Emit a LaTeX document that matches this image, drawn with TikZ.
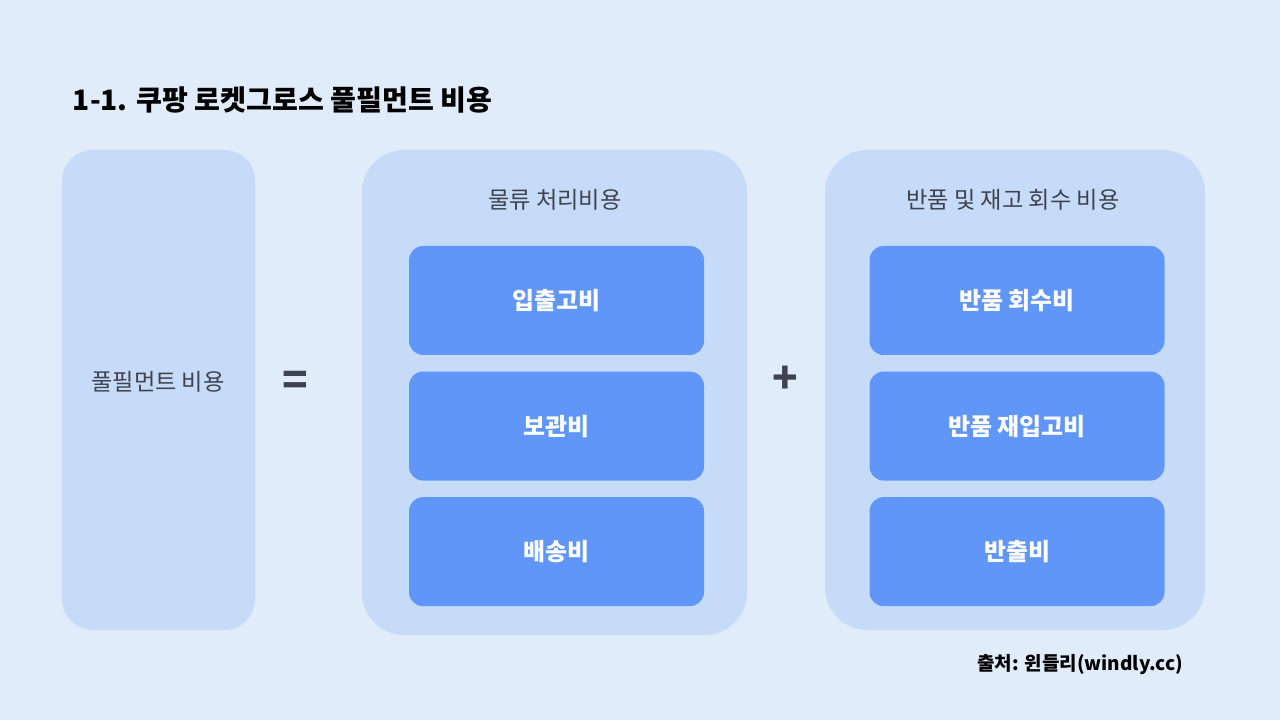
\documentclass[tikz,border=0pt]{standalone}
\usepackage{fontspec}
\setmainfont{Noto Sans CJK KR}
\usetikzlibrary{positioning}
\definecolor{bgblue}{HTML}{E1ECFB}
\definecolor{panelblue}{HTML}{C6DBF8}
\definecolor{itemblue}{HTML}{6096F8}
\definecolor{textgray}{HTML}{3F4350}
\tikzset{
  panel/.style={fill=panelblue, draw=none, rounded corners=22pt, inner sep=0pt},
  item/.style={fill=itemblue, draw=none, rounded corners=10pt, minimum width=295*0.025cm,
    minimum height=109*0.025cm, text=white, font=\fontsize{17}{20}\selectfont\bfseries},
  head/.style={text=textgray, font=\fontsize{16.5}{20}\selectfont},
  sign/.style={text=textgray, font=\fontsize{30}{30}\selectfont\bfseries}
}
\begin{document}
\begin{tikzpicture}[x=0.025cm, y=-0.025cm]
    \fill[bgblue] (0,0) rectangle (1280,720);
    \useasboundingbox (0,0) rectangle (1280,720);
    \node[anchor=west, font=\fontsize{20}{24}\selectfont\bfseries] (title) at (68,100) {1-1. 쿠팡 로켓그로스 풀필먼트 비용};
    % panels
    \fill[panelblue, rounded corners=22pt] (62,150) rectangle (255,630);
    \fill[panelblue, rounded corners=30pt] (362,150) rectangle (747,635);
    \fill[panelblue, rounded corners=30pt] (825,150) rectangle (1205,630);
    \node[head] (total) at (158,382) {풀필먼트 비용};
    \node[sign] (eq) at (295,383) {=};
    \node[sign] (plus) at (785,380) {+};
    \node[head] (logi) at (555,200) {물류 처리비용};
    \node[head] (ret) at (1013,200) {반품 및 재고 회수 비용};
    % items
    \node[item] (inout) at (556.5,300.5) {입출고비};
    \node[item, below=16*0.025cm of inout] (store) {보관비};
    \node[item, below=16*0.025cm of store] (ship) {배송비};
    \node[item] (retcol) at (1017,300.5) {반품 회수비};
    \node[item, below=16*0.025cm of retcol] (restock) {반품 재입고비};
    \node[item, below=16*0.025cm of restock] (outgo) {반출비};
    \node[anchor=east, font=\fontsize{13.5}{16}\selectfont\bfseries] (src) at (1188,665) {출처: 윈들리(windly.cc)};
\end{tikzpicture}
\end{document}
